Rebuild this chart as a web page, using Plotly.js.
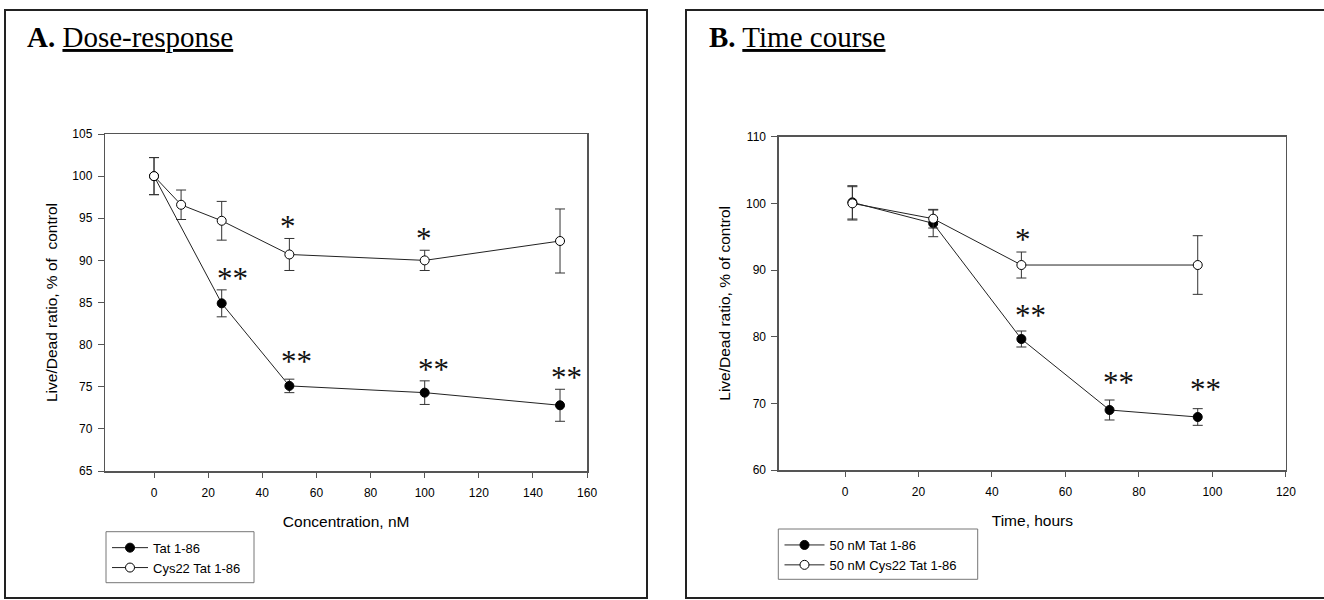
<!DOCTYPE html>
<html>
<head>
<meta charset="utf-8">
<script src="https://cdn.plot.ly/plotly-3.0.1.min.js"></script>
<style>html,body{margin:0;padding:0;background:#fff;}#chart{width:1324px;height:600px;}</style>
</head>
<body>
<div id="chart"></div>
<script>
// ---------- Data ----------
// Panel A: dose-response
const tatDoseX = [0, 25, 50, 100, 150];
const tatDoseY = [100, 84.9, 75.1, 74.3, 72.8];
const tatDoseErr = [2.2, 1.6, 0.8, 1.4, 1.9];
const cysDoseX = [0, 10, 25, 50, 100, 150];
const cysDoseY = [100, 96.6, 94.7, 90.7, 90.0, 92.3];
const cysDoseErr = [2.2, 1.75, 2.3, 1.9, 1.2, 3.8];
const starsAX = [49.5, 99.7, 28.9, 52.7, 103.2, 152.4];
const starsAY = [94.4, 92.9, 88.2, 78.4, 77.4, 76.4];
const starsAText = ['*', '*', '**', '**', '**', '**'];

// Panel B: time course
const tatTimeX = [2, 24, 48, 72, 96];
const tatTimeY = [100.15, 97.0, 79.65, 69.0, 67.95];
const tatTimeErr = [2.5, 2.0, 1.2, 1.5, 1.25];
const cysTimeX = [2, 24, 48, 96];
const cysTimeY = [100.0, 97.7, 90.75, 90.75];
const cysTimeErr = [2.5, 1.4, 1.95, 4.4];
const starsBX = [48.5, 50.5, 74.4, 98.2];
const starsBY = [95.0, 83.7, 73.6, 72.5];
const starsBText = ['*', '**', '**', '**'];

// Names / labels
const legendA = ['Tat 1-86', 'Cys22 Tat 1-86'];
const legendB = ['50 nM Tat 1-86', '50 nM Cys22 Tat 1-86'];
const titleA = '<b>A.</b> <u>Dose-response</u>';
const titleB = '<b>B.</b> <u>Time course</u>';
const xTitleA = 'Concentration, nM';
const xTitleB = 'Time, hours';
const yTitleA = 'Live/Dead ratio, % of&nbsp; control';
const yTitleB = 'Live/Dead ratio, % of control';
const xTicksA = [0, 20, 40, 60, 80, 100, 120, 140, 160];
const xTicksB = [0, 20, 40, 60, 80, 100, 120];
const yTicksA = [65, 70, 75, 80, 85, 90, 95, 100, 105];
const yTicksB = [60, 70, 80, 90, 100, 110];

// ---------- Layout helpers ----------
const W = 1324, H = 600;
const px = v => v / W;
const py = v => 1 - v / H;
const SANS = 'Liberation Sans, Arial, sans-serif';
const SERIF = 'Liberation Serif, Times New Roman, serif';

function lineTrace(x, y, err, name, filled, xa, ya, leg) {
  return {
    type: 'scatter', mode: 'lines+markers', x: x, y: y, name: name,
    xaxis: xa, yaxis: ya, legend: leg, cliponaxis: false,
    line: {color: '#222', width: 1},
    marker: {size: 9, color: filled ? '#000' : '#fff', line: {color: '#000', width: 1}},
    error_y: {type: 'data', array: err, visible: true, color: '#333', thickness: 1, width: 5}
  };
}

const data = [
  lineTrace(tatDoseX, tatDoseY, tatDoseErr, legendA[0], true, 'x', 'y', 'legend'),
  lineTrace(cysDoseX, cysDoseY, cysDoseErr, legendA[1], false, 'x', 'y', 'legend'),
  lineTrace(tatTimeX, tatTimeY, tatTimeErr, legendB[0], true, 'x2', 'y2', 'legend2'),
  lineTrace(cysTimeX, cysTimeY, cysTimeErr, legendB[1], false, 'x2', 'y2', 'legend2')
];

function xAxis(range, ticks, title, domain, anchor) {
  return {
    domain: domain, range: range, anchor: anchor, tickvals: ticks,
    showgrid: false, zeroline: false, showline: true, mirror: true,
    linecolor: '#555', linewidth: 1.5, ticks: 'outside', ticklen: 5, tickwidth: 1, tickcolor: '#555',
    ticklabelstandoff: 5,
    tickfont: {family: SANS, size: 12, color: '#000'},
    title: {text: title, font: {family: SANS, size: 15.5, color: '#000'}, standoff: 17},
    fixedrange: true
  };
}
function yAxis(range, ticks, title, domain, anchor) {
  return {
    domain: domain, range: range, anchor: anchor, tickvals: ticks,
    showgrid: false, zeroline: false, showline: true, mirror: true,
    linecolor: '#555', linewidth: 1.5, ticks: 'outside', ticklen: 6, tickwidth: 1, tickcolor: '#555',
    ticklabelstandoff: 3,
    tickfont: {family: SANS, size: 12, color: '#000'},
    title: {text: title, font: {family: SANS, size: 15.5, color: '#000'}, standoff: 11},
    fixedrange: true
  };
}

const annotations = [];
annotations.push({xref: 'paper', yref: 'paper', x: px(25), y: py(37), xanchor: 'left', yanchor: 'middle',
  text: titleA, showarrow: false, font: {family: SERIF, size: 29, color: '#000'}});
annotations.push({xref: 'paper', yref: 'paper', x: px(707), y: py(37), xanchor: 'left', yanchor: 'middle',
  text: titleB, showarrow: false, font: {family: SERIF, size: 29, color: '#000'}});
starsAX.forEach((v, i) => annotations.push({xref: 'x', yref: 'y', x: v, y: starsAY[i], text: starsAText[i],
  showarrow: false, xanchor: 'center', yanchor: 'middle', yshift: -3, font: {family: SERIF, size: 31, color: '#111'}}));
starsBX.forEach((v, i) => annotations.push({xref: 'x2', yref: 'y2', x: v, y: starsBY[i], text: starsBText[i],
  showarrow: false, xanchor: 'center', yanchor: 'middle', yshift: -3, font: {family: SERIF, size: 31, color: '#111'}}));

const boxB = 'M ' + px(1330) + ' ' + py(10) + ' L ' + px(686) + ' ' + py(10) +
             ' L ' + px(686) + ' ' + py(598) + ' L ' + px(1330) + ' ' + py(598);
const shapes = [
  {type: 'rect', xref: 'paper', yref: 'paper', x0: px(5), x1: px(647), y0: py(598), y1: py(10), line: {color: '#222', width: 2}},
  {type: 'path', xref: 'paper', yref: 'paper', path: boxB, line: {color: '#222', width: 2}},
  // legend frames
  {type: 'rect', xref: 'paper', yref: 'paper', x0: px(106), x1: px(254), y0: py(582.7), y1: py(531.7), line: {color: '#777', width: 1}},
  {type: 'rect', xref: 'paper', yref: 'paper', x0: px(778.3), x1: px(977.7), y0: py(579.3), y1: py(529), line: {color: '#777', width: 1}}
];

function legendCfg(x, y, iw) {
  return {x: x, y: y, xanchor: 'left', yanchor: 'top', xref: 'paper', yref: 'paper',
    bgcolor: 'rgba(0,0,0,0)', borderwidth: 0, itemwidth: iw,
    font: {family: SANS, size: 13, color: '#000'}, traceorder: 'normal', itemclick: false, itemdoubleclick: false};
}

const layout = {
  width: W, height: H, autosize: false,
  margin: {l: 0, r: 0, t: 0, b: 0, pad: 0},
  paper_bgcolor: '#fff', plot_bgcolor: '#fff',
  showlegend: true,
  xaxis: xAxis([-18, 160], xTicksA, xTitleA, [px(105.3), px(587.1)], 'y'),
  yaxis: yAxis([65, 105], yTicksA, yTitleA, [py(471), py(134)], 'x'),
  xaxis2: xAxis([-18, 120], xTicksB, xTitleB, [px(778.9), px(1285.9)], 'y2'),
  yaxis2: yAxis([60, 110], yTicksB, yTitleB, [py(470), py(136.7)], 'x2'),
  legend: legendCfg(px(107), py(532.7), 36),
  legend2: legendCfg(px(779.5), py(530), 40),
  annotations: annotations,
  shapes: shapes
};

Plotly.newPlot('chart', data, layout, {displayModeBar: false, staticPlot: true});
</script>
</body>
</html>
